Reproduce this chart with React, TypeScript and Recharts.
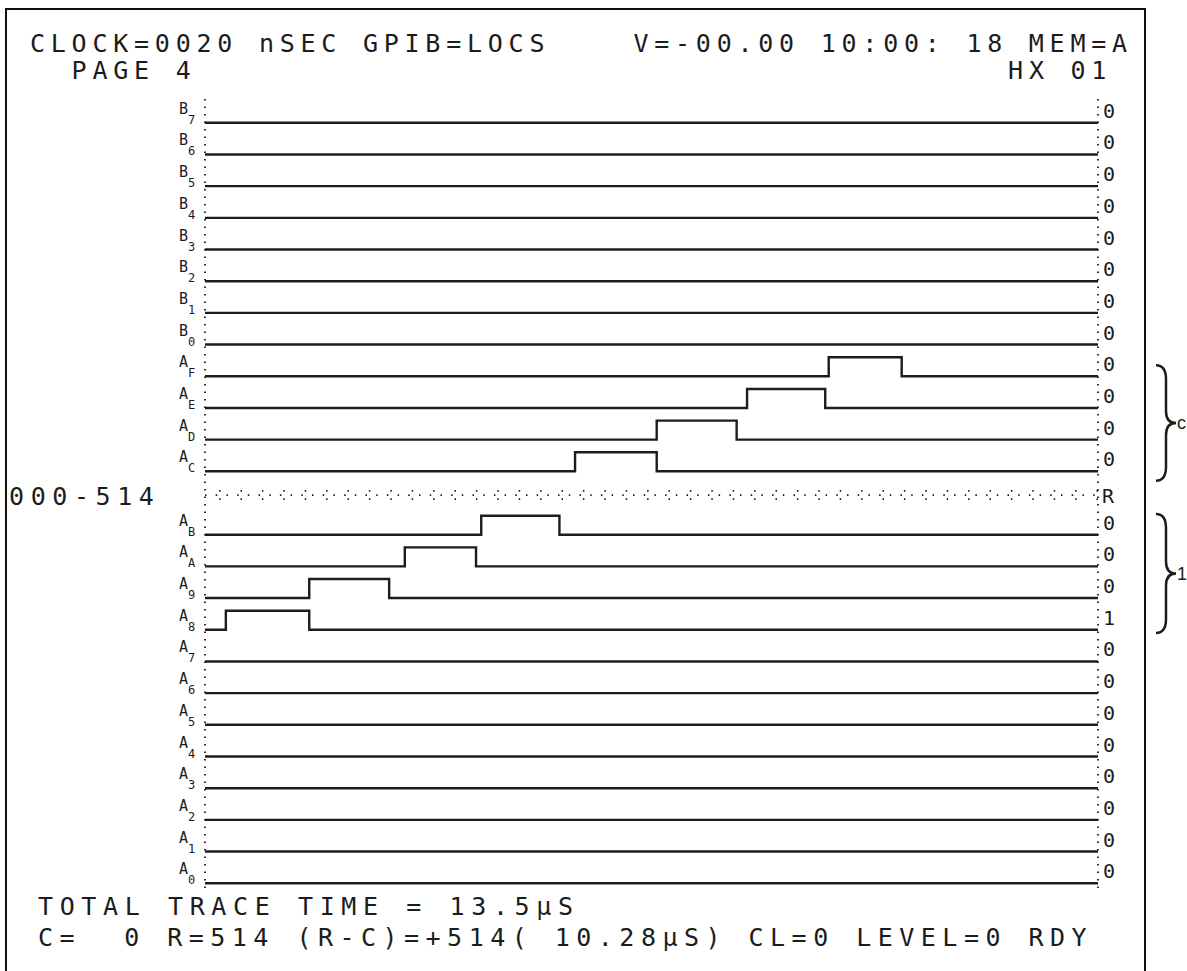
import { LineChart, Line, XAxis, YAxis, ReferenceLine, ReferenceArea } from 'recharts';

// channel names, top to bottom (the R cursor row sits between AC and AB)
const channels = ['B7', 'B6', 'B5', 'B4', 'B3', 'B2', 'B1', 'B0', 'AF', 'AE', 'AD', 'AC', 'AB', 'AA', 'A9', 'A8', 'A7', 'A6', 'A5', 'A4', 'A3', 'A2', 'A1', 'A0'];
const endValues = ['0', '0', '0', '0', '0', '0', '0', '0', '0', '0', '0', '0', '0', '0', '0', '1', '0', '0', '0', '0', '0', '0', '0', '0'];

// single pulses, in samples (0..514)
const pulseChannels = ['A8', 'A9', 'AA', 'AB', 'AC', 'AD', 'AE', 'AF'];
const riseAt = [12, 60, 115, 159, 213, 260, 312, 359];
const fallAt = [60, 106, 156, 204, 260, 306, 357, 401];

const header1 = 'CLOCK=0020 nSEC GPIB=LOCS    V=-00.00 10:00: 18 MEM=A';
const header2 = '  PAGE 4                                       HX 01';
const footer1 = 'TOTAL TRACE TIME = 13.5µS';
const footer2 = 'C=  0 R=514 (R-C)=+514( 10.28µS) CL=0 LEVEL=0 RDY';
const cursorLabel = '000-514';

const LAST = 514;
const HIGH = 0.6;
const FONT = '"DejaVu Sans Mono", "Liberation Mono", monospace';
const INK = '#1c1c1c';

const slotOf = (i: number) => (i < 12 ? i : i + 1);
const lowOf = (i: number) => 24 - slotOf(i);
const R_Y = 12.25;

const series = channels.map((name, i) => {
  const low = lowOf(i);
  const p = pulseChannels.indexOf(name);
  const pts = p < 0
    ? [{ t: 0, v: low }, { t: LAST, v: low }]
    : [{ t: 0, v: low }, { t: riseAt[p], v: low + HIGH }, { t: fallAt[p], v: low }, { t: LAST, v: low }];
  return { name, data: pts };
});
const cursorData = [{ t: 0, v: R_Y }, { t: LAST, v: R_Y }];

const ticks = channels.map((_, i) => lowOf(i));

const LeftTick = (props: any) => {
  const { x, y, payload } = props;
  const i = ticks.indexOf(payload.value);
  const name = channels[i] || '';
  return (
    <g fill={INK} fontFamily={FONT}>
      <text x={x - 18} y={y - 9} fontSize={15}>{name[0]}</text>
      <text x={x - 9} y={y + 1} fontSize={12}>{name.slice(1)}</text>
    </g>
  );
};

const RightTick = (props: any) => {
  const { x, y, payload } = props;
  const i = ticks.indexOf(payload.value);
  return (
    <text x={x - 3} y={y - 5} fontSize={20} fill={INK} fontFamily={FONT}>{endValues[i]}</text>
  );
};

const Brace = (label: string) => (props: any) => {
  const { x, width, y, height } = props;
  const bx = x + width + 58;
  const mid = y + height / 2;
  const top = y;
  const bot = y + height;
  const d = `M ${bx} ${top} Q ${bx + 10} ${top} ${bx + 10} ${top + 14} L ${bx + 10} ${mid - 12} Q ${bx + 10} ${mid} ${bx + 20} ${mid} Q ${bx + 10} ${mid} ${bx + 10} ${mid + 12} L ${bx + 10} ${bot - 14} Q ${bx + 10} ${bot} ${bx} ${bot}`;
  return (
    <g>
      <path d={d} fill="none" stroke={INK} strokeWidth={2.5} />
      <text x={bx + 21} y={mid + 6} fontSize={18} fill={INK} fontFamily="Arial, sans-serif">{label}</text>
    </g>
  );
};

const txt = (s: string, x: number, y: number, pitch = 20.7) => (
  <text x={x} y={y} fontSize={25} fill={INK} fontFamily={FONT} textLength={s.length * pitch} xmlSpace="preserve" style={{ whiteSpace: 'pre' }}>{s}</text>
);

export default function App() {
  return (
    <div style={{ position: 'absolute', left: 0, top: 0, width: 1187, height: 971, background: '#fff', overflow: 'hidden' }}>
      <div style={{ position: 'absolute', left: 5, top: 8, width: 1137, height: 1000, borderLeft: '2.5px solid #111', borderTop: '2.5px solid #111', borderRight: '2.5px solid #111' }} />
      <LineChart width={1187} height={971} margin={{ top: 99, right: 49, bottom: 83, left: 165 }} style={{ position: 'absolute', left: 0, top: 0 }}>
        <XAxis type="number" dataKey="t" domain={[0, LAST]} hide allowDuplicatedCategory={false} />
        <YAxis yAxisId="l" type="number" domain={[-0.15, 24.75]} ticks={ticks} interval={0} tick={<LeftTick />} axisLine={{ stroke: INK, strokeDasharray: '1.5 6', strokeWidth: 1.8 }} tickLine={false} width={40} />
        <YAxis yAxisId="r" orientation="right" type="number" domain={[-0.15, 24.75]} ticks={ticks} interval={0} tick={<RightTick />} axisLine={{ stroke: INK, strokeDasharray: '1.5 6', strokeWidth: 1.8 }} tickLine={false} width={40} />
        <ReferenceLine yAxisId="r" y={R_Y + 0.13} stroke={INK} strokeWidth={1.8} strokeDasharray="1.5 19.9" />
        <ReferenceLine yAxisId="r" y={R_Y - 0.13} stroke={INK} strokeWidth={1.8} strokeDasharray="1.5 19.9" />
        <ReferenceArea yAxisId="l" y1={lowOf(11) - 0.3} y2={lowOf(8) + 0.35} ifOverflow="visible" shape={Brace('c')} />
        <ReferenceArea yAxisId="l" y1={lowOf(15) - 0.1} y2={lowOf(12) + 0.65} ifOverflow="visible" shape={Brace('1')} />
        <Line yAxisId="r" data={cursorData} dataKey="v" type="linear" stroke={INK} strokeWidth={1.8} strokeDasharray="1.5 9.2" dot={false} isAnimationActive={false} />
        {series.map((s) => (
          <Line key={s.name} yAxisId="l" data={s.data} dataKey="v" type="stepAfter" stroke={INK} strokeWidth={2.4} dot={false} isAnimationActive={false} />
        ))}
      </LineChart>
      <svg width={1187} height={971} style={{ position: 'absolute', left: 0, top: 0, pointerEvents: 'none' }}>
        {txt(header1, 30, 52)}
        {txt(header2, 30, 79)}
        {txt(cursorLabel, 9, 505)}
        <text x={1102} y={503} fontSize={20} fill={INK} fontFamily={FONT}>R</text>
        {txt(footer1, 38, 915, 21.4)}
        {txt(footer2, 38, 946, 21.4)}
      </svg>
    </div>
  );
}
